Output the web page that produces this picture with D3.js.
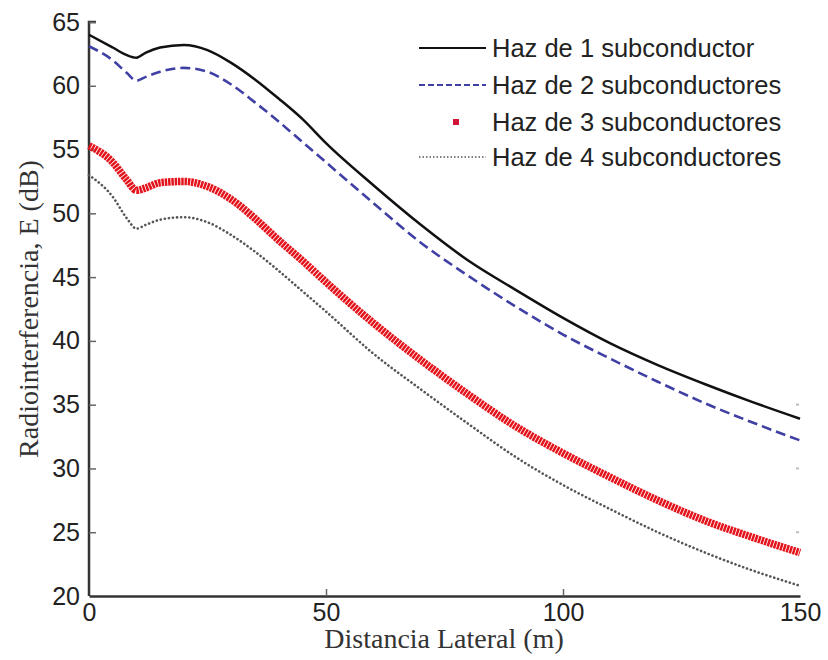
<!DOCTYPE html>
<html>
<head>
<meta charset="utf-8">
<script src="https://cdn.jsdelivr.net/npm/d3@7"></script>
<style>
  body { margin: 0; background: #fff; }
  svg { display: block; }
</style>
</head>
<body>
<script>
// Chart data
let distances = [0, 5, 8, 10, 12, 15, 20, 25, 30, 35, 40, 45, 50, 60, 70, 80, 90, 100, 110, 120, 130, 140, 150];

let haz1 = [64.0, 63.0, 62.4, 62.2, 62.6, 63.0, 63.2, 62.8, 61.8, 60.5, 59.0, 57.4, 55.5, 52.2, 49.1, 46.3, 44.0, 41.8, 39.8, 38.1, 36.6, 35.2, 33.9];
let haz2 = [63.1, 62.0, 61.0, 60.4, 60.7, 61.1, 61.4, 61.1, 60.1, 58.7, 57.2, 55.6, 54.0, 50.8, 47.7, 45.1, 42.7, 40.5, 38.6, 36.8, 35.1, 33.6, 32.2];
let haz3 = [55.3, 54.0, 52.6, 51.8, 52.0, 52.4, 52.5, 52.1, 51.1, 49.6, 47.9, 46.3, 44.6, 41.4, 38.5, 35.8, 33.3, 31.2, 29.3, 27.5, 25.9, 24.6, 23.4];
let haz4 = [53.0, 51.3, 49.6, 48.8, 49.1, 49.5, 49.7, 49.3, 48.3, 47.0, 45.5, 43.9, 42.3, 39.0, 36.2, 33.5, 30.9, 28.7, 26.8, 25.0, 23.4, 22.0, 20.8];

let seriesNames = ["Haz de 1 subconductor", "Haz de 2 subconductores", "Haz de 3 subconductores", "Haz de 4 subconductores"];
let xTicks = [0, 50, 100, 150];
let yTicks = [20, 25, 30, 35, 40, 45, 50, 55, 60, 65];

let w = 828;
let h = 660;
let plotLeft = 89, plotRight = 800, plotTop = 22, plotBottom = 596;

let svg = d3.select("body")
    .append("svg")
    .attr("width", w)
    .attr("height", h);

let x = d3.scaleLinear().domain([0, 150]).range([plotLeft, plotRight]);
let y = d3.scaleLinear().domain([20, 65]).range([plotBottom, plotTop]);

// line styles per series
let styles = [
    { color: "#111111", width: 2.5, dash: null, cap: "butt" },
    { color: "#4040a4", width: 2.6, dash: "10,5", cap: "butt" },
    { color: "#e4141c", width: 7.5, dash: "2.5,0.8", cap: "butt" },
    { color: "#555555", width: 2.6, dash: "0.1,4", cap: "round" }
];
let allSeries = [haz1, haz2, haz3, haz4];

let line = d3.line()
    .x(function(d) { return x(d[0]); })
    .y(function(d) { return y(d[1]); })
    .curve(d3.curveMonotoneX);

// y axis
let yAxis = svg.append("g")
    .attr("transform", "translate(" + plotLeft + ",0)")
    .call(d3.axisLeft(y).tickValues(yTicks).tickSizeInner(-7).tickSizeOuter(0).tickPadding(9));

// x axis
let xAxis = svg.append("g")
    .attr("transform", "translate(0," + plotBottom + ")")
    .call(d3.axisBottom(x).tickValues(xTicks).tickSizeInner(-7).tickSizeOuter(0).tickPadding(7));

[yAxis, xAxis].forEach(function(a) {
    a.select(".domain").attr("stroke", "#333").attr("stroke-width", 2.5);
    a.selectAll(".tick line").attr("stroke", "#666").attr("stroke-width", 1.5);
    a.selectAll(".tick text")
        .style("font-family", "'Liberation Sans', Arial, sans-serif")
        .style("font-size", "25px")
        .attr("fill", "#222");
});
// hide end ticks that sit on the other axis
xAxis.selectAll(".tick line").filter(function(d) { return d === 0 || d === 150; }).remove();
yAxis.selectAll(".tick line").filter(function(d) { return d === 20; }).remove();
yAxis.select(".domain").attr("d", "M0," + plotBottom + "V" + plotTop + "H7");

// faint right-hand ticks
svg.append("g")
    .selectAll("line")
    .data(yTicks.filter(function(d) { return d > 20 && d < 40; }))
    .enter()
    .append("line")
    .attr("x1", plotRight - 4)
    .attr("x2", plotRight - 1)
    .attr("y1", function(d) { return y(d); })
    .attr("y2", function(d) { return y(d); })
    .attr("stroke", "#bbb")
    .attr("stroke-width", 2);

// draw each series
allSeries.forEach(function(vals, i) {
    let pts = distances.map(function(d, j) { return [d, vals[j]]; });
    svg.append("path")
        .datum(pts)
        .attr("fill", "none")
        .attr("stroke", styles[i].color)
        .attr("stroke-width", styles[i].width)
        .attr("stroke-dasharray", styles[i].dash)
        .attr("stroke-linecap", styles[i].cap)
        .attr("d", line);
});

// legend
let legend = svg.append("g").attr("transform", "translate(419,0)");
let rowY = [48, 85, 122, 157];
seriesNames.forEach(function(name, i) {
    let g = legend.append("g").attr("transform", "translate(0," + rowY[i] + ")");
    if (i === 2) {
        g.append("rect")
            .attr("x", 34).attr("y", -3)
            .attr("width", 6).attr("height", 6)
            .attr("fill", "#d0143c");
    } else {
        g.append("line")
            .attr("x1", 0).attr("x2", 67)
            .attr("stroke", styles[i].color)
            .attr("stroke-width", i === 3 ? 1.5 : 2.2)
            .attr("stroke-dasharray", i === 1 ? "6,3" : (i === 3 ? "1.5,2" : null));
    }
    g.append("text")
        .attr("x", 73)
        .attr("dy", "0.35em")
        .style("font-family", "'Liberation Sans', Arial, sans-serif")
        .style("font-size", "25.5px")
        .attr("fill", "#222")
        .text(name);
});

// axis titles
svg.append("text")
    .attr("x", 444)
    .attr("y", 648)
    .attr("text-anchor", "middle")
    .style("font-family", "'Liberation Serif', 'Times New Roman', serif")
    .style("font-size", "28px")
    .attr("fill", "#333")
    .text("Distancia Lateral (m)");

svg.append("text")
    .attr("transform", "translate(38," + ((plotTop + plotBottom) / 2) + ") rotate(-90)")
    .attr("text-anchor", "middle")
    .style("font-family", "'Liberation Serif', 'Times New Roman', serif")
    .style("font-size", "28px")
    .attr("fill", "#333")
    .text("Radiointerferencia, E (dB)");
</script>
</body>
</html>
